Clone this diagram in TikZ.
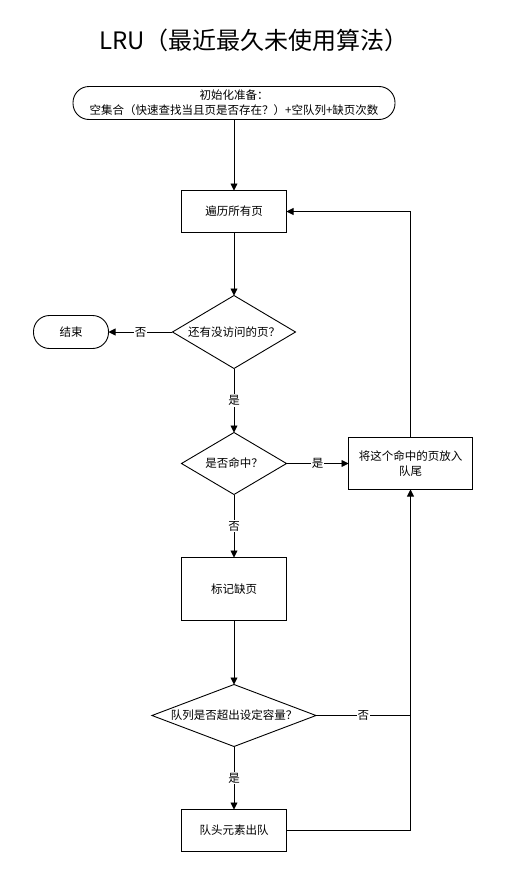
\documentclass[tikz,border=0pt]{standalone}
\usepackage{fontspec}
\setmainfont{Noto Sans CJK SC}
\usetikzlibrary{positioning,shapes.geometric,arrows.meta}

\begin{document}
\begin{tikzpicture}[x=1pt, y=1pt, node distance=63pt, line width=0.9pt,
    font=\fontsize{11.5}{15}\selectfont,
    proc/.style={draw, rectangle, inner sep=0pt, outer sep=0pt, align=center},
    decide/.style={draw, diamond, inner sep=0pt, outer sep=0pt},
    term/.style={draw, rectangle, rounded corners=16pt, inner sep=0pt, outer sep=0pt, align=center},
    lbl/.style={fill=white, inner sep=1pt},
    flow/.style={-{Triangle[length=7pt,width=7pt]}}]
    \useasboundingbox (0,0) rectangle (526,-870);

    % Nodes
    \node (title) at (254,-40) {\fontsize{24}{28}\selectfont LRU（最近最久未使用算法）};
    \node (init) [term, minimum width=322pt, minimum height=33pt] at (234,-103)
        {初始化准备：\\空集合（快速查找当且页是否存在？）+空队列+缺页次数};
    \node (visit) [below=71pt of init, proc, minimum width=105pt, minimum height=42pt] {遍历所有页};
    \node (more) [below=of visit, decide, aspect=1.7, minimum width=123pt, minimum height=73pt] {还有没访问的页？};
    \node (end) [left=64pt of more, term, minimum width=75pt, minimum height=33pt] {结束};
    \node (hit) [below=64pt of more, decide, aspect=1.7, minimum width=105pt, minimum height=62pt] {是否命中？};
    \node (hitbox) [right=62pt of hit, proc, minimum width=124pt, minimum height=52pt] {将这个命中的页放入\\队尾};
    \node (mark) [below=of hit, proc, minimum width=105pt, minimum height=63pt] {标记缺页};
    \node (full) [below=64pt of mark, decide, aspect=2.65, minimum width=164pt, minimum height=62pt] {队列是否超出设定容量？};
    \node (deq) [below=of full, proc, minimum width=105pt, minimum height=42pt] {队头元素出队};
    \coordinate (join) at (full -| hitbox);

    % Arrows
    \draw[flow] (init) -- (visit);
    \draw[flow] (visit) -- (more);
    \draw[flow] (more) -- node[lbl] {否} (end);
    \draw[flow] (more) -- node[lbl] {是} (hit);
    \draw[flow] (hit) -- node[lbl] {是} (hitbox);
    \draw[flow] (hitbox) |- (visit);
    \draw[flow] (hit) -- node[lbl] {否} (mark);
    \draw[flow] (mark) -- (full);
    \draw[flow] (full) -- node[lbl] {是} (deq);
    \draw (full) -- node[lbl] {否} (join);
    \draw[flow] (deq) -| (hitbox);
\end{tikzpicture}
\end{document}
